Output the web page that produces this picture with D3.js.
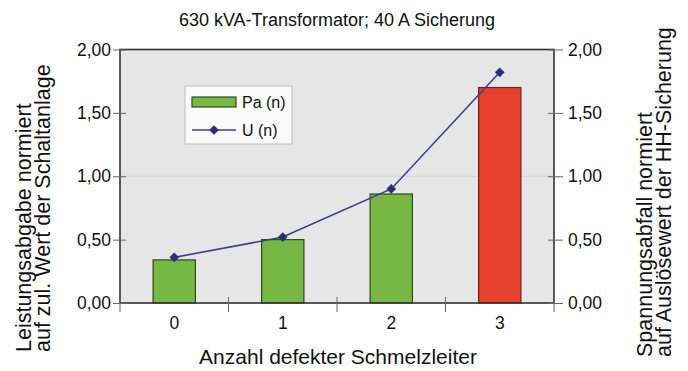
<!DOCTYPE html>
<html>
<head>
<meta charset="utf-8">
<script src="https://cdn.jsdelivr.net/npm/d3@7"></script>
<style>
  html, body { margin: 0; padding: 0; background: #fff; }
  svg text { font-family: "Liberation Sans", Arial, Helvetica, sans-serif; fill: #111; }
</style>
</head>
<body>
<svg id="chart" width="688" height="371"></svg>
<script>
// Number of defective fuse elements
const categories = ["0", "1", "2", "3"];
// Power output normalised to rated value of the switchgear
const paValues = [0.34, 0.50, 0.86, 1.70];
// Voltage drop normalised to trip value of the HV fuse
const uValues = [0.36, 0.52, 0.90, 1.82];
const yTicks = [0, 0.5, 1, 1.5, 2];
const yTickLabels = ["0,00", "0,50", "1,00", "1,50", "2,00"];
const gridValues = [1];
const barColors = ["#76b843", "#76b843", "#76b843", "#e8412e"];
const barStrokes = ["#2e4a1e", "#2e4a1e", "#2e4a1e", "#6a2418"];

const svg = d3.select("#chart");
const plot = { left: 120, right: 554, top: 49.5, bottom: 303 };

const x = d3.scaleBand().domain(categories).range([plot.left, plot.right]);
const y = d3.scaleLinear().domain([0, 2]).range([plot.bottom, plot.top]);

// plot background
svg.append("rect")
  .attr("x", plot.left).attr("y", plot.top)
  .attr("width", plot.right - plot.left).attr("height", plot.bottom - plot.top)
  .attr("fill", "#e6e6e6");

// gridline
svg.selectAll(".grid").data(gridValues).enter().append("line")
  .attr("x1", plot.left).attr("x2", plot.right)
  .attr("y1", d => y(d)).attr("y2", d => y(d))
  .attr("stroke", "#d2d2d2").attr("stroke-width", 1);

// bars
const barW = x.bandwidth() * 0.39;
svg.selectAll(".bar").data(paValues).enter().append("rect")
  .attr("x", (d, i) => x(categories[i]) + x.bandwidth() / 2 - barW / 2)
  .attr("y", d => y(d))
  .attr("width", barW)
  .attr("height", d => y(0) - y(d))
  .attr("fill", (d, i) => barColors[i])
  .attr("stroke", (d, i) => barStrokes[i])
  .attr("stroke-width", 1.2);

// frame
svg.append("rect")
  .attr("x", plot.left).attr("y", plot.top)
  .attr("width", plot.right - plot.left).attr("height", plot.bottom - plot.top)
  .attr("fill", "none").attr("stroke", "#333").attr("stroke-width", 1.6);

// left axis
const leftAxis = d3.axisLeft(y).tickValues(yTicks)
  .tickFormat((d, i) => yTickLabels[i]).tickSize(7).tickPadding(4);
const gl = svg.append("g").attr("transform", `translate(${plot.left},0)`).call(leftAxis);
gl.select(".domain").remove();
gl.selectAll(".tick line").attr("stroke", "#666").attr("x2", -7).attr("x1", 6);
gl.selectAll(".tick text").attr("font-size", 17.5).attr("x", -9).attr("fill", "#111");

// right axis
const rightAxis = d3.axisRight(y).tickValues(yTicks)
  .tickFormat((d, i) => yTickLabels[i]).tickSize(9).tickPadding(4);
const gr = svg.append("g").attr("transform", `translate(${plot.right},0)`).call(rightAxis);
gr.select(".domain").remove();
gr.selectAll(".tick line").attr("stroke", "#666").attr("x1", -6).attr("x2", 9);
gr.selectAll(".tick text").attr("font-size", 17.5).attr("x", 14).attr("fill", "#111");

// bottom axis: ticks between categories, labels at centres
const boundaries = [plot.left].concat(categories.map(c => x(c) + x.bandwidth()));
svg.selectAll(".xtick").data(boundaries).enter().append("line")
  .attr("x1", d => d).attr("x2", d => d)
  .attr("y1", plot.bottom - 6).attr("y2", plot.bottom + 9)
  .attr("stroke", "#666");
svg.selectAll(".xlabel").data(categories).enter().append("text")
  .attr("x", d => x(d) + x.bandwidth() / 2)
  .attr("y", 329)
  .attr("text-anchor", "middle")
  .attr("font-size", 17.5)
  .text(d => d);

// line series
const line = d3.line()
  .x((d, i) => x(categories[i]) + x.bandwidth() / 2)
  .y(d => y(d));
svg.append("path").datum(uValues)
  .attr("d", line)
  .attr("fill", "none").attr("stroke", "#3b3d8c").attr("stroke-width", 1.6);
const diamond = d3.symbol().type(d3.symbolDiamond2).size(60);
svg.selectAll(".marker").data(uValues).enter().append("path")
  .attr("d", diamond)
  .attr("transform", (d, i) => `translate(${x(categories[i]) + x.bandwidth() / 2},${y(d)})`)
  .attr("fill", "#2b2e7e");

// legend
const lg = svg.append("g");
lg.append("rect").attr("x", 185).attr("y", 86).attr("width", 107).attr("height", 58)
  .attr("fill", "#fafafa").attr("stroke", "#bdbdbd").attr("stroke-width", 1);
lg.append("rect").attr("x", 192).attr("y", 97).attr("width", 44).attr("height", 10)
  .attr("fill", "#76b843").attr("stroke", "#2e4a1e").attr("stroke-width", 1.2);
lg.append("text").attr("x", 242).attr("y", 108).attr("font-size", 16).text("Pa (n)");
lg.append("line").attr("x1", 192).attr("x2", 236).attr("y1", 130).attr("y2", 130)
  .attr("stroke", "#3b3d8c").attr("stroke-width", 1.6);
lg.append("path").attr("d", diamond).attr("transform", "translate(214,130)").attr("fill", "#2b2e7e");
lg.append("text").attr("x", 242).attr("y", 136).attr("font-size", 16).text("U (n)");

// titles
svg.append("text").attr("x", 337).attr("y", 26).attr("text-anchor", "middle")
  .attr("font-size", 18).text("630 kVA-Transformator; 40 A Sicherung");
svg.append("text").attr("x", 338).attr("y", 364).attr("text-anchor", "middle")
  .attr("font-size", 21).text("Anzahl defekter Schmelzleiter");

const leftTitles = ["Leistungsabgabe normiert", "auf zul. Wert der Schaltanlage"];
const leftBase = [31, 50];
leftTitles.forEach((t, i) => {
  svg.append("text")
    .attr("transform", `translate(${leftBase[i]},352) rotate(-90)`)
    .attr("text-anchor", "start").attr("font-size", 21.5).text(t);
});
const rightTitles = ["Spannungsabfall normiert", "auf Auslösewert der HH-Sicherung"];
const rightBase = [652, 671];
rightTitles.forEach((t, i) => {
  svg.append("text")
    .attr("transform", `translate(${rightBase[i]},357) rotate(-90)`)
    .attr("text-anchor", "start").attr("font-size", 21.5).text(t);
});
</script>
</body>
</html>
